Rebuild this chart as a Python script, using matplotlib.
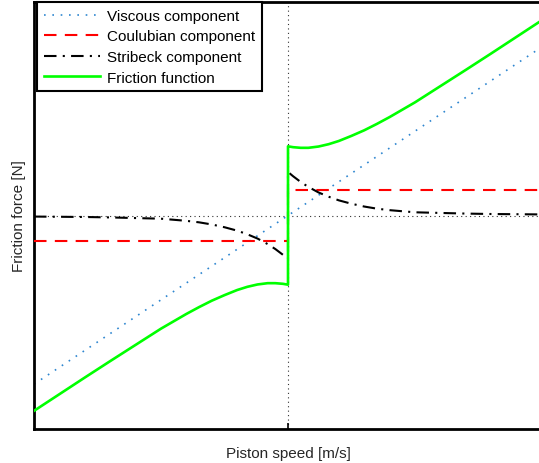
import numpy as np
import matplotlib
matplotlib.use("Agg")
import matplotlib.pyplot as plt

# === Data (normalised units, odd-symmetric about 0) ===
speed_pos = [0.0, 0.02, 0.05, 0.08, 0.12, 0.16, 0.2, 0.25, 0.3, 0.35, 0.4,
             0.5, 0.6, 0.7, 0.8, 0.9, 1.0]
stribeck_pos = [0.204, 0.184, 0.157, 0.134, 0.108, 0.088, 0.071, 0.055, 0.042,
                0.032, 0.025, 0.015, 0.012, 0.009, 0.007, 0.006, 0.005]
friction_pos = [0.324, 0.320, 0.317, 0.317, 0.323, 0.334, 0.349, 0.373, 0.399,
                0.429, 0.461, 0.530, 0.606, 0.682, 0.759, 0.837, 0.915]
viscous_speed = [-1.0, 1.0]
viscous_force = [-0.79, 0.79]
coulomb_speed = [-1.0, 0.0, 0.0, 1.0]
coulomb_force = [-0.12, -0.12, 0.12, 0.12]

legend_labels = ["Viscous component", "Coulubian component",
                 "Stribeck component", "Friction function"]

# mirror positive branch to the negative side
sp = np.array(speed_pos)
speed_full = np.concatenate([-sp[::-1], sp])
stribeck_full = np.concatenate([-np.array(stribeck_pos)[::-1], stribeck_pos])
friction_full = np.concatenate([-np.array(friction_pos)[::-1], friction_pos])

plt.rcParams['font.family'] = ['Liberation Sans', 'DejaVu Sans']

fig = plt.figure(figsize=(5.39, 4.64), dpi=100)
ax = fig.add_axes([34 / 539, 34 / 464, 508 / 539, 427 / 464])

ax.axhline(0, color='#333333', lw=0.8, ls=(0, (1, 3)), zorder=1)
ax.axvline(0, color='#333333', lw=0.8, ls=(0, (1, 3)), zorder=1)

ax.plot(viscous_speed, viscous_force, color='#2E86D0', lw=1.2,
        ls=(0, (1, 4)), label=legend_labels[0], zorder=2)
ax.plot(coulomb_speed, coulomb_force, color='red', lw=1.5,
        ls=(0, (6, 4)), label=legend_labels[1], zorder=3)
ax.plot(speed_full, stribeck_full, color='black', lw=1.5,
        ls=(0, (6, 3, 1, 3)), label=legend_labels[2], zorder=4)
ax.plot(speed_full, friction_full, color='#00FF00', lw=1.9,
        label=legend_labels[3], zorder=5)

ax.set_xlim(-1, 1)
ax.set_ylim(-1, 1)
ax.set_xticks([0])
ax.set_yticks([])
ax.tick_params(axis='x', direction='in', length=4, width=1.2, labelbottom=False)
for s in ax.spines.values():
    s.set_linewidth(2)

ax.set_xlabel("Piston speed [m/s]", fontsize=11, color='#262626', labelpad=12)
ax.set_ylabel("Friction force [N]", fontsize=11, color='#262626', labelpad=6)

leg = ax.legend(loc='upper left', bbox_to_anchor=(37 / 539, 1 - 3 / 464),
                bbox_transform=fig.transFigure, borderaxespad=0,
                fancybox=False, framealpha=1, edgecolor='black',
                fontsize=11, handlelength=3.7, handletextpad=0.4,
                labelspacing=0.43, borderpad=0.45)
leg.get_frame().set_linewidth(1.5)

fig.savefig("out.png", dpi=100)
